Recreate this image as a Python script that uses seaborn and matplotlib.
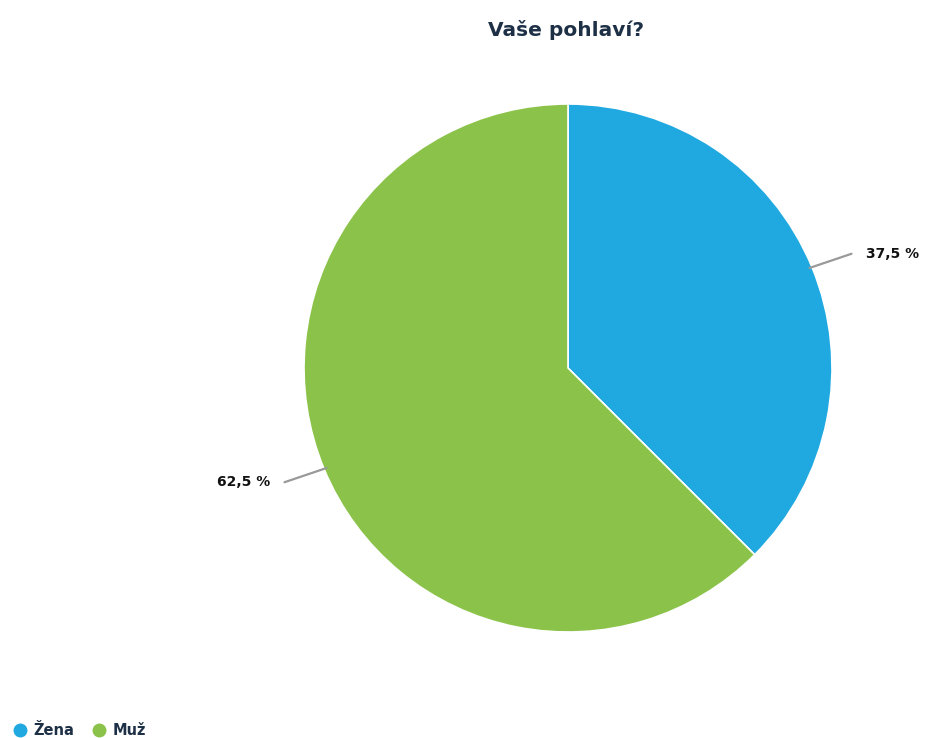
import numpy as np
import matplotlib
matplotlib.use("Agg")
import matplotlib.pyplot as plt
import seaborn as sns
from matplotlib.lines import Line2D

categories = ["Žena", "Muž"]
shares = [37.5, 62.5]
labels = ["37,5 %", "62,5 %"]
colors = ["#20a9e0", "#8bc34a"]
title = "Vaše pohlaví?"

sns.set_theme(style="white")
plt.rcParams["font.family"] = ["DejaVu Sans"]

fig = plt.figure(figsize=(9.27, 7.38), dpi=100)
W, H = 927, 738
cx, cy, r = 568, 368, 264
ax = fig.add_axes([(cx - r) / W, (H - cy - r) / H, 2 * r / W, 2 * r / H])

wedges, _ = ax.pie(shares, colors=colors, startangle=90, counterclock=False,
                   radius=1.0, wedgeprops=dict(edgecolor="white", linewidth=1.2))
ax.set_xlim(-1, 1)
ax.set_ylim(-1, 1)
ax.set_aspect("equal")
ax.axis("off")

# connector lines and value labels
for w, lab in zip(wedges, labels):
    mid = np.deg2rad((w.theta1 + w.theta2) / 2)
    x0, y0 = np.cos(mid), np.sin(mid)
    side = 1 if x0 > 0 else -1
    x1, y1 = x0 + side * 0.15, y0 + np.sign(y0) * 0.05
    ax.plot([x0 * 0.99, x1], [y0 * 0.99, y1], color="#999999", lw=1.6,
            solid_capstyle="round", clip_on=False)
    ax.text(x1 + side * 0.055, y1, lab, ha="left" if side > 0 else "right",
            va="center", fontsize=10, fontweight="bold", color="#111111",
            clip_on=False)

fig.text(566 / W, 1 - 30 / H, title, ha="center", va="center", fontsize=14.5,
         fontweight="bold", color="#1e3046")

handles = [Line2D([0], [0], marker="o", linestyle="", markersize=9,
                  markerfacecolor=c, markeredgecolor=c) for c in colors]
fig.legend(handles, categories, loc="lower left", bbox_to_anchor=(0.0, -0.018),
           ncol=2, frameon=False, handletextpad=0.4, columnspacing=1.2,
           handlelength=1.0, prop=dict(size=10.5, weight="bold"),
           labelcolor="#1e3046")

fig.savefig("out.png", dpi=100, facecolor="white")
